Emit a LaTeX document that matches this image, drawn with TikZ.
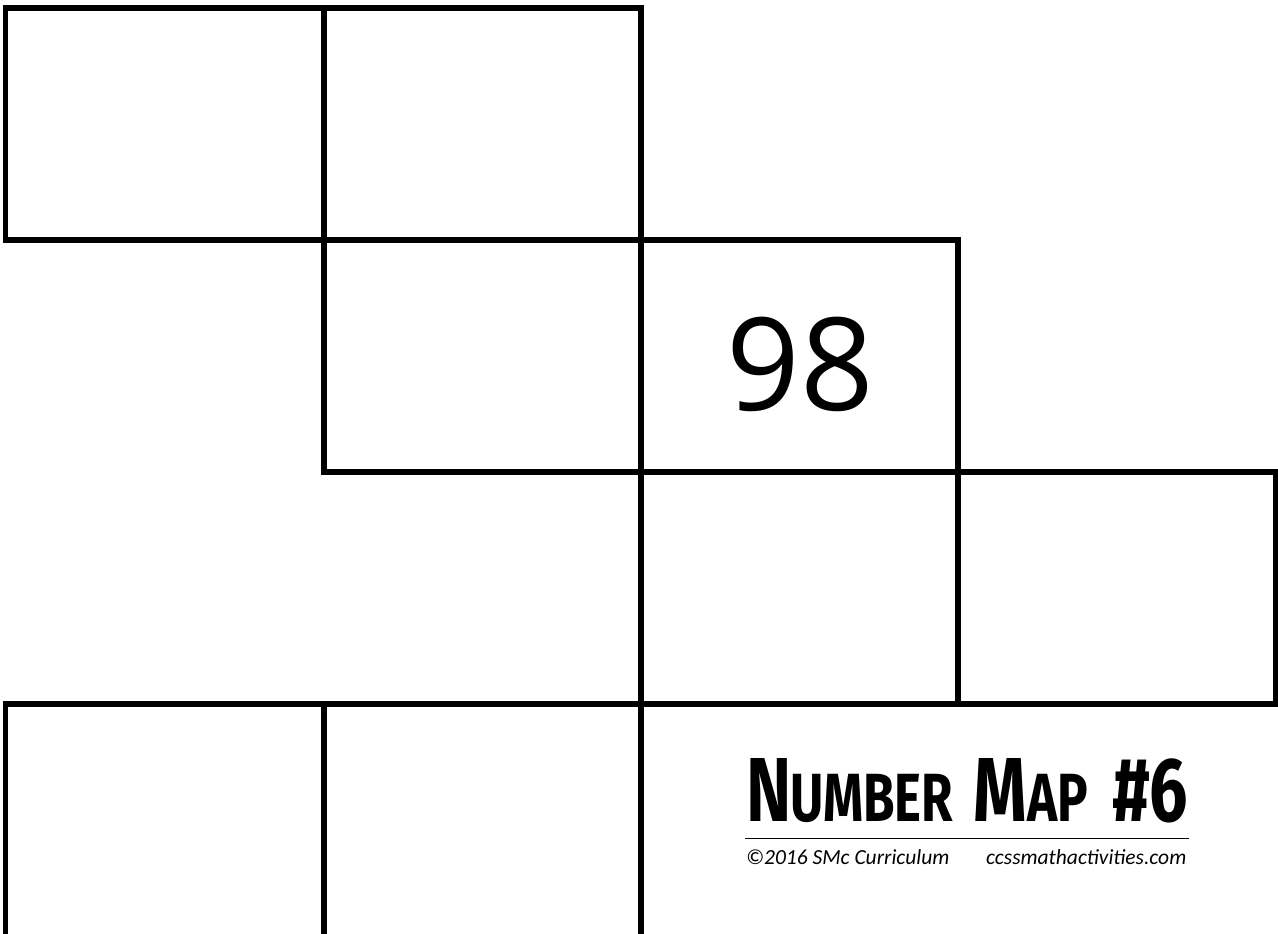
\documentclass[tikz,border=0pt]{standalone}
\usepackage{fontspec}
\setmainfont{Carlito}
\newfontfamily\titlefont{Fira Sans}
\newfontfamily\numfont{Open Sans}
\tikzset{
  cell/.style={draw=black, line width=5.5pt, line join=miter},
  bignum/.style={font=\numfont\fontsize{129}{129}\selectfont, inner sep=0pt},
  credit/.style={font=\fontsize{21.5}{21.5}\selectfont\itshape, inner sep=0pt, anchor=base west},
}
\begin{document}
\begin{tikzpicture}[x=1pt,y=-1pt]
\useasboundingbox (0,0) rectangle (1278,934);
\begin{scope}
\clip (0,0) rectangle (1278,934);
% row 1
\draw[cell] (5.5,8) rectangle (324,240);
\draw[cell] (324,8) rectangle (641,240);
% row 2
\draw[cell] (324,240) rectangle (641,472);
\draw[cell] (641,240) rectangle (958,472);
% row 3
\draw[cell] (641,472) rectangle (958,704);
\draw[cell] (958,472) rectangle (1275.5,704);
% row 4
\draw[cell] (5.5,704) rectangle (324,940);
\draw[cell] (324,704) rectangle (641,940);
\end{scope}
\node[bignum] (n98) at (800,364) {98};
% title
\node[inner sep=0pt, anchor=south west] (title) at (746,823)
  {\resizebox{442pt}{63pt}{\titlefont\bfseries N\kern-0.02em{\fontsize{7.5}{7.5}\selectfont UMBER}\hspace{0.3em}M{\fontsize{7.5}{7.5}\selectfont AP}\hspace{0.35em}\#6}};
\coordinate (ruleL) at (745,838.5);
\coordinate (ruleR) at (1189,838.5);
\draw[line width=1.2pt] (ruleL) -- (ruleR);
\node[credit] (copy) at (746,864) {©2016 SMc Curriculum};
\node[credit] (site) at (986,864) {ccssmathactivities.com};
\end{tikzpicture}
\end{document}
